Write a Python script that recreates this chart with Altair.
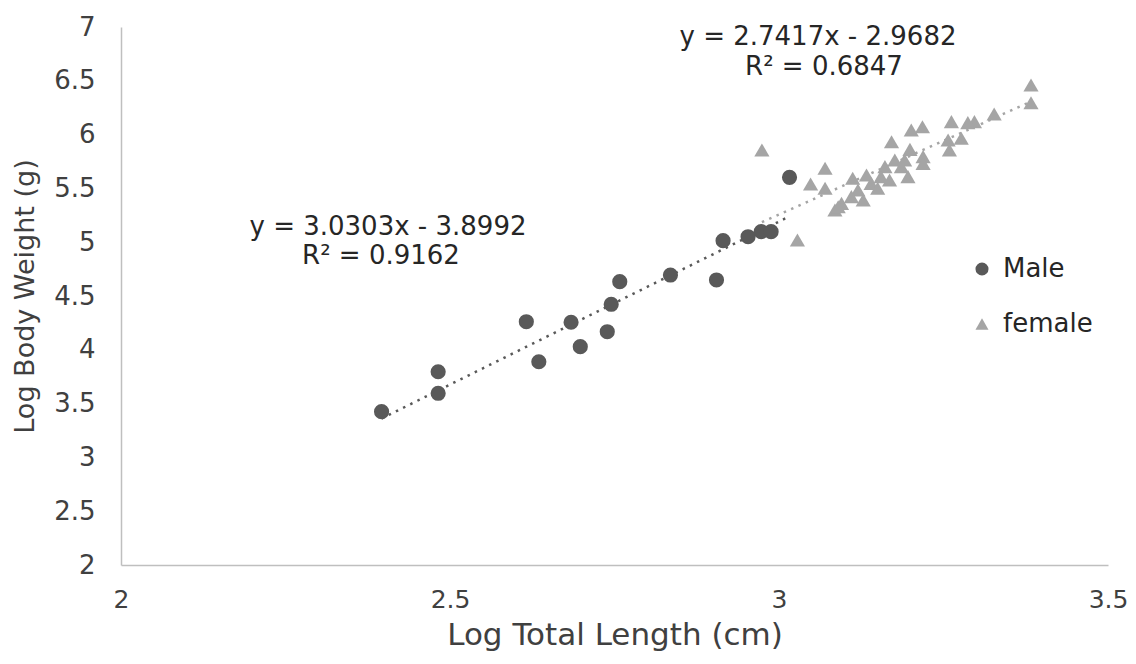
import altair as alt
import pandas as pd

# ---- data ----
male_x = [2.396, 2.482, 2.482, 2.616, 2.635, 2.684, 2.698, 2.745, 2.739, 2.758,
          2.835, 2.905, 2.915, 2.953, 2.973, 2.988, 3.016]
male_y = [3.425, 3.596, 3.796, 4.261, 3.889, 4.256, 4.029, 4.423, 4.168, 4.633,
          4.695, 4.649, 5.014, 5.051, 5.098, 5.098, 5.603]

female_x = [3.383, 3.383, 3.327, 3.297, 3.287, 3.262, 3.277, 3.257, 3.259, 3.201,
            3.218, 3.171, 3.199, 3.219, 3.219, 3.196, 2.974, 3.070, 3.048, 3.070,
            3.028, 3.085, 3.095, 3.112, 3.133, 3.120, 3.140, 3.150, 3.161, 3.176,
            3.186, 3.155, 3.128, 3.110, 3.090, 3.168, 3.191]
female_y = [6.461, 6.296, 6.191, 6.120, 6.111, 6.120, 5.966, 5.950, 5.857, 6.043,
            6.073, 5.934, 5.863, 5.795, 5.733, 5.609, 5.857, 5.687, 5.541, 5.501,
            5.020, 5.299, 5.361, 5.594, 5.625, 5.485, 5.547, 5.501, 5.702, 5.764,
            5.702, 5.609, 5.392, 5.423, 5.330, 5.578, 5.764]

series = ["Male", "female"]
series_colors = ["#595959", "#a5a5a5"]
series_shapes = ["circle", "triangle-up"]
slopes = [3.0303, 2.7417]
intercepts = [-3.8992, -2.9682]
eq_lines = ["y = 3.0303x - 3.8992", "R\u00b2 = 0.9162",
            "y = 2.7417x - 2.9682", "R\u00b2 = 0.6847"]
x_ticks = [2, 2.5, 3, 3.5]
y_ticks = [2, 2.5, 3, 3.5, 4, 4.5, 5, 5.5, 6, 6.5, 7]

FONT = "DejaVu Sans"

pts = pd.DataFrame({
    "x": male_x + female_x,
    "y": male_y + female_y,
    "sex": ["Male"] * len(male_x) + ["female"] * len(female_x),
})

xs = [male_x, female_x]
trend_rows = []
for i, s in enumerate(series):
    for xv in (min(xs[i]), max(xs[i])):
        trend_rows.append({"x": xv, "y": slopes[i] * xv + intercepts[i], "sex": s})
trend = pd.DataFrame(trend_rows)

xscale = alt.Scale(domain=[2, 3.5], nice=False, zero=False)
yscale = alt.Scale(domain=[2, 7], nice=False, zero=False)

X = alt.X("x:Q", scale=xscale, axis=alt.Axis(
    values=x_ticks, format="~g", title="Log Total Length (cm)", labelFlush=False,
    labelFont=FONT, titleFont=FONT, labelFontSize=25, titleFontSize=31,
    labelPadding=22, titlePadding=8))
Y = alt.Y("y:Q", scale=yscale, axis=alt.Axis(
    values=y_ticks, format="~g", title="Log Body Weight (g)", labelFlush=False,
    labelFont=FONT, titleFont=FONT, labelFontSize=26, titleFontSize=27,
    labelPadding=26, titlePadding=14))

points = alt.Chart(pts).mark_point(filled=True, opacity=1, size=230).encode(
    x=X, y=Y,
    color=alt.Color("sex:N", scale=alt.Scale(domain=series, range=series_colors),
                    legend=alt.Legend(title=None, orient="none", legendX=848, legendY=229,
                                      labelFont=FONT, labelFontSize=26, labelColor="#262626",
                                      symbolSize=170, symbolOpacity=1, labelOffset=8,
                                      rowPadding=29, padding=0)),
    shape=alt.Shape("sex:N", scale=alt.Scale(domain=series, range=series_shapes)),
)

lines = []
for i, s in enumerate(series):
    lines.append(
        alt.Chart(trend[trend["sex"] == s]).mark_line(
            color=series_colors[i], strokeWidth=2.5, strokeDash=[2.5, 5.5]
        ).encode(x=X, y=Y)
    )

texts = []
text_pos = [(267, 200), (260, 229), (697, 10), (703, 40)]
for i, t in enumerate(eq_lines):
    texts.append(
        alt.Chart(pd.DataFrame({"t": [t]})).mark_text(
            font=FONT, fontSize=26, color="#262626", align="center", baseline="middle"
        ).encode(text="t:N", x=alt.value(text_pos[i][0]), y=alt.value(text_pos[i][1]))
    )

chart = alt.layer(*lines, points, *texts).properties(
    width=987, height=538,
    autosize=alt.AutoSizeParams(type="none"),
    padding={"left": 113, "top": 19, "right": 20, "bottom": 91},
).configure_view(stroke=None).configure_axis(
    grid=False, ticks=False, domainColor="#bfbfbf", domainWidth=1.5,
    labelColor="#404040", titleColor="#404040", titleFontWeight="normal"
)

chart.save("out.html", embed_options={"renderer": "svg", "actions": False})
